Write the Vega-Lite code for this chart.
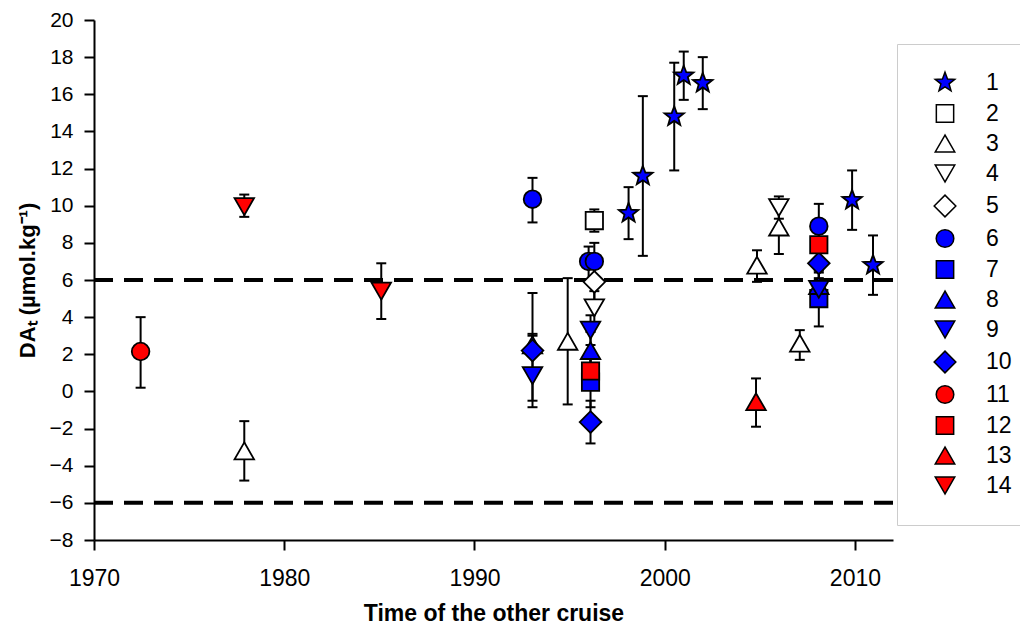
{
  "$schema": "https://vega.github.io/schema/vega-lite/v6.json",
  "width": 799,
  "height": 520,
  "autosize": {"type": "none"},
  "padding": {"left": 94, "top": 20, "right": 127, "bottom": 88},
  "background": "white",
  "datasets": {
    "pts": [
      {"g": "1", "year": 1998.1, "y": 9.6, "lo": 8.2, "hi": 11.0},
      {"g": "1", "year": 1998.85, "y": 11.6, "lo": 7.3, "hi": 15.9},
      {"g": "1", "year": 2000.5, "y": 14.8, "lo": 11.9, "hi": 17.7},
      {"g": "1", "year": 2001.0, "y": 17.0, "lo": 15.7, "hi": 18.3},
      {"g": "1", "year": 2002.0, "y": 16.6, "lo": 15.2, "hi": 18.0},
      {"g": "1", "year": 2009.85, "y": 10.3, "lo": 8.7, "hi": 11.9},
      {"g": "1", "year": 2010.95, "y": 6.8, "lo": 5.2, "hi": 8.4},
      {"g": "2", "year": 1996.3, "y": 9.2, "lo": 8.6, "hi": 9.8},
      {"g": "3", "year": 1977.9, "y": -3.2, "lo": -4.8, "hi": -1.6},
      {"g": "3", "year": 1994.9, "y": 2.7, "lo": -0.7, "hi": 6.1},
      {"g": "3", "year": 2004.85, "y": 6.8, "lo": 5.9, "hi": 7.6},
      {"g": "3", "year": 2006.0, "y": 8.85, "lo": 7.4, "hi": 10.2},
      {"g": "3", "year": 2007.1, "y": 2.6, "lo": 1.7, "hi": 3.3},
      {"g": "4", "year": 1996.3, "y": 4.5, "lo": 3.7, "hi": 5.4},
      {"g": "4", "year": 2006.0, "y": 9.9, "lo": 9.3, "hi": 10.5},
      {"g": "5", "year": 1996.3, "y": 5.9, "lo": 4.9, "hi": 6.9},
      {"g": "6", "year": 1993.05, "y": 10.35, "lo": 9.1, "hi": 11.5},
      {"g": "6", "year": 1996.0, "y": 7.0, "lo": 6.0, "hi": 7.8},
      {"g": "6", "year": 1996.3, "y": 7.0, "lo": 6.0, "hi": 8.0},
      {"g": "6", "year": 2008.1, "y": 8.9, "lo": 7.9, "hi": 10.1},
      {"g": "7", "year": 1996.1, "y": 0.5, "lo": -0.85, "hi": 1.9},
      {"g": "7", "year": 2008.1, "y": 5.0, "lo": 3.5, "hi": 6.5},
      {"g": "8", "year": 1993.05, "y": 2.5, "lo": 1.9, "hi": 3.1},
      {"g": "8", "year": 1996.1, "y": 2.2, "lo": 1.2, "hi": 3.2},
      {"g": "8", "year": 2008.1, "y": 5.7, "lo": 5.0, "hi": 6.4},
      {"g": "9", "year": 1993.05, "y": 0.85, "lo": -0.5, "hi": 3.0},
      {"g": "9", "year": 1996.1, "y": 3.3, "lo": 2.5, "hi": 4.1},
      {"g": "9", "year": 2008.1, "y": 5.5, "lo": 4.9, "hi": 6.1},
      {"g": "10", "year": 1993.05, "y": 2.2, "lo": -0.85, "hi": 5.3},
      {"g": "10", "year": 1996.1, "y": -1.65, "lo": -2.8, "hi": -0.5},
      {"g": "10", "year": 2008.1, "y": 6.9, "lo": 6.0, "hi": 7.8},
      {"g": "11", "year": 1972.45, "y": 2.15, "lo": 0.2, "hi": 4.0},
      {"g": "12", "year": 1996.1, "y": 1.1, "lo": 0.3, "hi": 2.0},
      {"g": "12", "year": 2008.1, "y": 7.9, "lo": 7.1, "hi": 8.7},
      {"g": "13", "year": 2004.8, "y": -0.55, "lo": -1.9, "hi": 0.7},
      {"g": "14", "year": 1977.9, "y": 9.95, "lo": 9.4, "hi": 10.6},
      {"g": "14", "year": 1985.1, "y": 5.4, "lo": 3.9, "hi": 6.9}
    ],
    "refs": [{"v": 6}, {"v": -6}]
  },
  "layer": [
    {
      "data": {"name": "refs"},
      "mark": {"type": "rule", "strokeDash": [19, 11], "strokeWidth": 4, "color": "black"},
      "encoding": {
        "y": {"field": "v", "type": "quantitative", "scale": {"domain": [-8, 20], "nice": false, "zero": false}, "axis": {"values": [-8, -6, -4, -2, 0, 2, 4, 6, 8, 10, 12, 14, 16, 18, 20]}, "title": "DAₜ (µmol.kg⁻¹)"}
      }
    },
    {
      "data": {"name": "pts"},
      "mark": {"type": "rule", "strokeWidth": 2, "color": "black"},
      "encoding": {
        "x": {"field": "year", "type": "quantitative", "scale": {"domain": [1970, 2012], "nice": false, "zero": false}, "axis": {"values": [1970, 1980, 1990, 2000, 2010], "format": "d"}, "title": "Time of the other cruise"},
        "y": {"field": "lo", "type": "quantitative", "scale": {"domain": [-8, 20], "nice": false, "zero": false}, "axis": {"values": [-8, -6, -4, -2, 0, 2, 4, 6, 8, 10, 12, 14, 16, 18, 20]}, "title": "DAₜ (µmol.kg⁻¹)"},
        "y2": {"field": "hi"}
      }
    },
    {
      "data": {"name": "pts"},
      "mark": {"type": "tick", "orient": "horizontal", "size": 10, "thickness": 2, "color": "black", "opacity": 1},
      "encoding": {
        "x": {"field": "year", "type": "quantitative", "scale": {"domain": [1970, 2012], "nice": false, "zero": false}, "axis": {"values": [1970, 1980, 1990, 2000, 2010], "format": "d"}, "title": "Time of the other cruise"},
        "y": {"field": "lo", "type": "quantitative", "scale": {"domain": [-8, 20], "nice": false, "zero": false}, "axis": {"values": [-8, -6, -4, -2, 0, 2, 4, 6, 8, 10, 12, 14, 16, 18, 20]}, "title": "DAₜ (µmol.kg⁻¹)"}
      }
    },
    {
      "data": {"name": "pts"},
      "mark": {"type": "tick", "orient": "horizontal", "size": 10, "thickness": 2, "color": "black", "opacity": 1},
      "encoding": {
        "x": {"field": "year", "type": "quantitative", "scale": {"domain": [1970, 2012], "nice": false, "zero": false}, "axis": {"values": [1970, 1980, 1990, 2000, 2010], "format": "d"}, "title": "Time of the other cruise"},
        "y": {"field": "hi", "type": "quantitative", "scale": {"domain": [-8, 20], "nice": false, "zero": false}, "axis": {"values": [-8, -6, -4, -2, 0, 2, 4, 6, 8, 10, 12, 14, 16, 18, 20]}, "title": "DAₜ (µmol.kg⁻¹)"}
      }
    },
    {
      "data": {"name": "pts"},
      "mark": {"type": "point", "filled": true, "stroke": "black", "strokeWidth": 1.8, "opacity": 1},
      "encoding": {
        "x": {"field": "year", "type": "quantitative", "scale": {"domain": [1970, 2012], "nice": false, "zero": false}, "axis": {"values": [1970, 1980, 1990, 2000, 2010], "format": "d"}, "title": "Time of the other cruise"},
        "y": {"field": "y", "type": "quantitative", "scale": {"domain": [-8, 20], "nice": false, "zero": false}, "axis": {"values": [-8, -6, -4, -2, 0, 2, 4, 6, 8, 10, 12, 14, 16, 18, 20]}, "title": "DAₜ (µmol.kg⁻¹)"},
        "shape": {
          "field": "g", "type": "nominal",
          "scale": {
            "domain": ["1", "2", "3", "4", "5", "6", "7", "8", "9", "10", "11", "12", "13", "14"],
            "range": ["M0,-1L0.247,-0.34L0.951,-0.309L0.399,0.13L0.588,0.809L0,0.42L-0.588,0.809L-0.399,0.13L-0.951,-0.309L-0.247,-0.34Z", "square", "triangle-up", "triangle-down", "diamond", "circle", "square", "triangle-up", "triangle-down", "diamond", "circle", "square", "triangle-up", "triangle-down"]
          },
          "legend": {"title": null, "orient": "none", "legendX": 803, "legendY": 24, "padding": 27, "symbolOffset": 9, "labelOffset": 29, "rowPadding": 6, "labelFontSize": 23, "labelFont": "Liberation Sans", "labelColor": "black", "strokeColor": "#cccccc", "fillColor": "white", "encode": {"symbols": {"update": {"stroke": {"value": "black"}, "strokeWidth": {"value": 1.8}, "opacity": {"value": 1}}}}}
        },
        "fill": {
          "field": "g", "type": "nominal",
          "scale": {
            "domain": ["1", "2", "3", "4", "5", "6", "7", "8", "9", "10", "11", "12", "13", "14"],
            "range": ["#0000ff", "#ffffff", "#ffffff", "#ffffff", "#ffffff", "#0000ff", "#0000ff", "#0000ff", "#0000ff", "#0000ff", "#ff0000", "#ff0000", "#ff0000", "#ff0000"]
          },
          "legend": {"title": null, "orient": "none", "legendX": 803, "legendY": 24, "padding": 27, "symbolOffset": 9, "labelOffset": 29, "rowPadding": 6, "labelFontSize": 23, "labelFont": "Liberation Sans", "labelColor": "black", "strokeColor": "#cccccc", "fillColor": "white", "encode": {"symbols": {"update": {"stroke": {"value": "black"}, "strokeWidth": {"value": 1.8}, "opacity": {"value": 1}}}}}
        },
        "size": {
          "field": "g", "type": "nominal",
          "scale": {
            "type": "ordinal",
            "domain": ["1", "2", "3", "4", "5", "6", "7", "8", "9", "10", "11", "12", "13", "14"],
            "range": [420, 300, 380, 380, 470, 310, 300, 380, 380, 470, 310, 300, 380, 380]
          },
          "legend": {"title": null, "orient": "none", "legendX": 803, "legendY": 24, "padding": 27, "symbolOffset": 9, "labelOffset": 29, "rowPadding": 6, "labelFontSize": 23, "labelFont": "Liberation Sans", "labelColor": "black", "strokeColor": "#cccccc", "fillColor": "white", "encode": {"symbols": {"update": {"stroke": {"value": "black"}, "strokeWidth": {"value": 1.8}, "opacity": {"value": 1}}}}}
        }
      }
    }
  ],
  "config": {
    "view": {"stroke": null},
    "font": "Liberation Sans",
    "axis": {
      "grid": false,
      "domainColor": "black",
      "domainWidth": 2,
      "tickColor": "black",
      "tickWidth": 2,
      "tickSize": 10,
      "labelFont": "Liberation Sans",
      "labelColor": "black",
      "titleFont": "Liberation Sans",
      "titleColor": "black",
      "titleFontWeight": "bold"
    },
    "axisX": {"labelFontSize": 23, "labelPadding": 17, "titleFontSize": 23, "titlePadding": 12, "labelFlush": false},
    "axisY": {"labelFontSize": 21, "labelPadding": 11, "titleFontSize": 22, "titlePadding": 10}
  }
}
